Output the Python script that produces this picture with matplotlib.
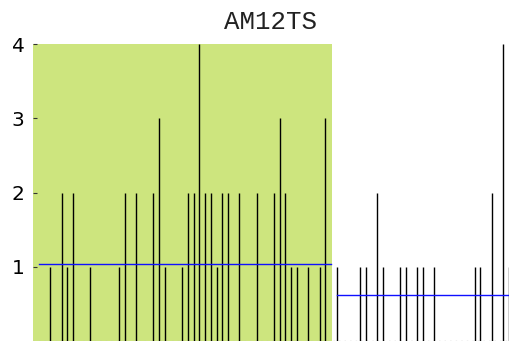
import matplotlib
matplotlib.use("Agg")
import matplotlib.pyplot as plt

title = "AM12TS"

# event positions and counts
spike_x = [3, 5, 6, 7, 10, 15, 16, 18, 21, 22, 23, 26, 27, 28, 29, 30, 31, 32,
           33, 34, 36, 39, 42, 43, 44, 45, 46, 48, 50, 51,
           53, 57, 58, 60, 61, 64, 65, 67, 68, 70, 77, 78, 80, 82, 83]
spike_y = [1, 2, 1, 2, 1, 1, 2, 2, 2, 3, 1, 1, 2, 2, 4, 2, 2, 1,
           2, 2, 2, 2, 2, 3, 2, 1, 1, 1, 1, 3,
           1, 1, 1, 2, 1, 1, 1, 1, 1, 1, 1, 1, 2, 4, 1]

# two segments (first, last slot), the first one highlighted
seg_first = [1, 53]
seg_last = [52, 84]

y_ticks = [1, 2, 3, 4]

fig = plt.figure(figsize=(5.09, 3.41), dpi=100)
ax = fig.add_axes([33 / 509, 0, 476 / 509, 297 / 341])
ax.set_xlim(0, 83)
ax.set_ylim(0, 4)

# highlighted segment background
ax.axvspan(seg_first[0] - 1, seg_last[0] + 0.1, color="#cde57e", zorder=1, lw=0)

# spikes
ax.vlines(spike_x, 0, spike_y, colors="black", linewidth=1.0, zorder=3)

# segment means
for a, b in zip(seg_first, seg_last):
    vals = [v for x, v in zip(spike_x, spike_y) if a <= x <= b]
    m = sum(vals) / (b - a + 1)
    ax.plot([a, b], [m, m], color="#1010ff", linewidth=1.0, zorder=4)

# dotted baseline
ax.axhline(0, color="#bbbbbb", linestyle=(0, (1, 3)), linewidth=1.0,
           clip_on=False, zorder=2)

for s in ax.spines.values():
    s.set_visible(False)
ax.set_xticks([])
ax.set_yticks(y_ticks)
ax.set_yticklabels([str(t) for t in y_ticks], fontsize=14.5,
                   family="DejaVu Sans")
ax.tick_params(axis="y", direction="in", length=3, pad=6, color="#333333")

ax.set_title(title, family="Liberation Mono", fontsize=18.5, pad=11,
             color="#222222")

fig.savefig("out.png", dpi=100)
